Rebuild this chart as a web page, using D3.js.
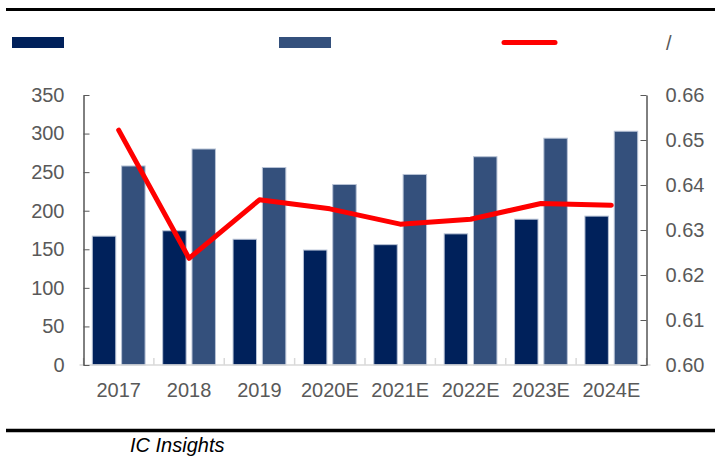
<!DOCTYPE html>
<html>
<head>
<meta charset="utf-8">
<script src="https://cdn.jsdelivr.net/npm/d3@7"></script>
<style>
    body { margin: 0; background: #fff; }
    svg { display: block; font-family: 'Liberation Sans', Arial, sans-serif; }
</style>
</head>
<body>
<div class="graph-container"></div>
<script>
// categories on the x axis
var years = ['2017', '2018', '2019', '2020E', '2021E', '2022E', '2023E', '2024E'];
// dark bars (left axis)
var seriesA = [167, 174, 163, 149, 156, 170, 189, 193];
// light bars (left axis)
var seriesB = [258, 280, 256, 234, 247, 270, 294, 303];
// red line (right axis)
var ratio = [0.6522, 0.6237, 0.6367, 0.6347, 0.6313, 0.6324, 0.6359, 0.6355];
// tick labels
var leftTicks = [0, 50, 100, 150, 200, 250, 300, 350];
var rightTicks = [0.60, 0.61, 0.62, 0.63, 0.64, 0.65, 0.66];

var svgWidth = 715;
var svgHeight = 461;
var plotLeft = 83.5;
var plotRight = 646.5;
var plotTop = 95;
var plotBottom = 365;

var darkColor = '#00215b';
var lightColor = '#34507c';
var labelColor = '#595959';

var svg = d3.select('.graph-container').append('svg')
    .attr('width', svgWidth)
    .attr('height', svgHeight);

// top and bottom rules
svg.append('line')
    .attr('x1', 6).attr('x2', svgWidth)
    .attr('y1', 9.5).attr('y2', 9.5)
    .attr('stroke', '#000').attr('stroke-width', 3);

svg.append('line')
    .attr('x1', 6).attr('x2', svgWidth)
    .attr('y1', 430.5).attr('y2', 430.5)
    .attr('stroke', '#000').attr('stroke-width', 3.5);

// source note
svg.append('text')
    .attr('x', 130)
    .attr('y', 452)
    .style('font-size', '20px')
    .style('font-style', 'italic')
    .attr('fill', '#000')
    .text('IC Insights');

// legend (symbols only)
svg.append('rect')
    .attr('x', 12).attr('y', 37).attr('width', 52).attr('height', 11)
    .attr('fill', darkColor);
svg.append('rect')
    .attr('x', 279).attr('y', 37).attr('width', 52).attr('height', 11)
    .attr('fill', lightColor);
svg.append('line')
    .attr('x1', 504).attr('x2', 555)
    .attr('y1', 42.5).attr('y2', 42.5)
    .attr('stroke', '#ff0000').attr('stroke-width', 5)
    .attr('stroke-linecap', 'round');
svg.append('text')
    .attr('x', 666).attr('y', 50)
    .style('font-size', '20px')
    .attr('fill', labelColor)
    .text('/');

// scales
var xScale = d3.scaleBand()
    .domain(years)
    .range([plotLeft, plotRight]);

var innerScale = d3.scaleBand()
    .domain(['a', 'b'])
    .range([0, xScale.bandwidth()])
    .paddingInner(0.2)
    .paddingOuter(0.3);

var yLeft = d3.scaleLinear()
    .domain([0, 350])
    .range([plotBottom, plotTop]);

var yRight = d3.scaleLinear()
    .domain([0.60, 0.66])
    .range([plotBottom, plotTop]);

// bars
var groups = svg.selectAll('.year')
    .data(years)
    .enter()
    .append('g')
    .attr('class', 'year')
    .attr('transform', function(d) { return 'translate(' + xScale(d) + ',0)'; });

groups.append('rect')
    .attr('x', innerScale('a'))
    .attr('width', innerScale.bandwidth())
    .attr('y', function(d, i) { return yLeft(seriesA[i]); })
    .attr('height', function(d, i) { return plotBottom - yLeft(seriesA[i]); })
    .attr('fill', darkColor)
    .attr('stroke', '#b8c3d6')
    .attr('stroke-width', 1);

groups.append('rect')
    .attr('x', innerScale('b'))
    .attr('width', innerScale.bandwidth())
    .attr('y', function(d, i) { return yLeft(seriesB[i]); })
    .attr('height', function(d, i) { return plotBottom - yLeft(seriesB[i]); })
    .attr('fill', lightColor)
    .attr('stroke', '#b8c3d6')
    .attr('stroke-width', 1);

// bottom axis - light grey baseline with category ticks
var xAxis = d3.axisBottom(xScale)
    .tickSizeInner(-7)
    .tickSizeOuter(0)
    .tickPadding(19);

var xAxisG = svg.append('g')
    .attr('transform', 'translate(0,' + plotBottom + ')')
    .call(xAxis);

xAxisG.select('.domain')
    .attr('stroke', '#d9d9d9')
    .attr('stroke-width', 1.5)
    .attr('d', 'M' + (plotLeft - 4) + ',0H' + (plotRight + 4));
xAxisG.selectAll('.tick line')
    .attr('stroke', '#d9d9d9')
    .attr('stroke-width', 1.5)
    .attr('transform', function(d) { return 'translate(' + (-xScale.bandwidth() / 2) + ',0)'; });
// extra tick at the end of the last category
xAxisG.append('line')
    .attr('x1', plotRight).attr('x2', plotRight)
    .attr('y1', 0).attr('y2', -7)
    .attr('stroke', '#d9d9d9').attr('stroke-width', 1.5);
xAxisG.selectAll('.tick text')
    .attr('fill', labelColor)
    .style('font-size', '20px')
    .attr('dy', '0.32em')
    .attr('y', 26);

// left axis
var yAxisLeft = d3.axisLeft(yLeft)
    .tickValues(leftTicks)
    .tickSizeInner(-6)
    .tickSizeOuter(0)
    .tickPadding(19);

var leftG = svg.append('g')
    .attr('transform', 'translate(' + plotLeft + ',0)')
    .call(yAxisLeft);

leftG.select('.domain').attr('stroke', '#000');
leftG.selectAll('.tick line').attr('stroke', '#595959');
leftG.selectAll('.tick text')
    .attr('fill', labelColor)
    .style('font-size', '20px');

// right axis
var yAxisRight = d3.axisRight(yRight)
    .tickValues(rightTicks)
    .tickFormat(d3.format('.2f'))
    .tickSizeInner(-6)
    .tickSizeOuter(0)
    .tickPadding(19);

var rightG = svg.append('g')
    .attr('transform', 'translate(' + plotRight + ',0)')
    .call(yAxisRight);

rightG.select('.domain').attr('stroke', '#000');
rightG.selectAll('.tick line').attr('stroke', '#595959');
rightG.selectAll('.tick text')
    .attr('fill', labelColor)
    .style('font-size', '20px');

// red ratio line
var line = d3.line()
    .x(function(d, i) { return xScale(years[i]) + xScale.bandwidth() / 2; })
    .y(function(d) { return yRight(d); });

svg.append('path')
    .datum(ratio)
    .attr('d', line)
    .attr('fill', 'none')
    .attr('stroke', '#ff0000')
    .attr('stroke-width', 5)
    .attr('stroke-linejoin', 'round')
    .attr('stroke-linecap', 'round');
</script>
</body>
</html>
